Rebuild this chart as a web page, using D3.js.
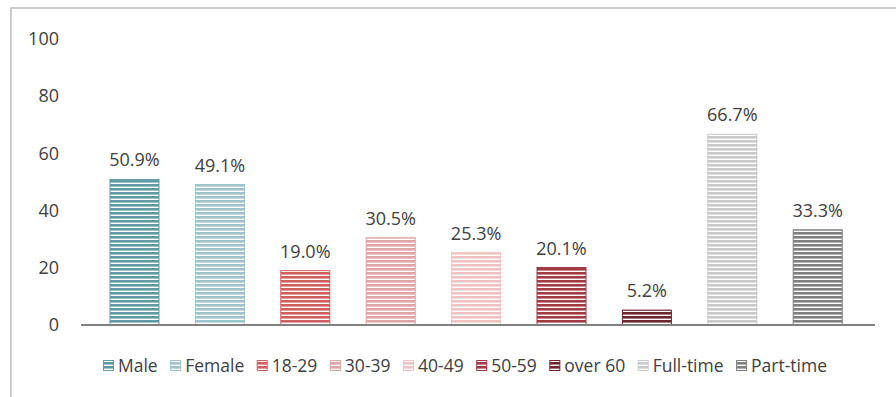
<!DOCTYPE html>
<html>
<head>
<meta charset="utf-8">
<script src="https://cdn.jsdelivr.net/npm/d3@7"></script>
<style>
  html, body { margin: 0; padding: 0; background: #ffffff; }
  svg { display: block; }
  text { font-family: "Open Sans", "Noto Sans", sans-serif; fill: #404040; }
</style>
</head>
<body>
<svg id="chart" width="896" height="397"></svg>
<script>
// Respondent breakdown (percent of total)
const categories = ["Male", "Female", "18-29", "30-39", "40-49", "50-59", "over 60", "Full-time", "Part-time"];
const values = [50.9, 49.1, 19.0, 30.5, 25.3, 20.1, 5.2, 66.7, 33.3];
const colors = ["#5f9ba5", "#9cc4ca", "#d25f5f", "#e1a3a3", "#f0c2c2", "#a33a44", "#6d2630", "#c9c9c9", "#7f7f7f"];
const yTicks = [0, 20, 40, 60, 80, 100];

const svg = d3.select("#chart");
const W = 896, H = 397;

// Chart frame
svg.append("rect")
  .attr("x", 11).attr("y", 8)
  .attr("width", W + 20).attr("height", H + 20)
  .attr("fill", "none").attr("stroke", "#bdbdbd").attr("stroke-width", 1.5);

// Striped fills, one per category
const defs = svg.append("defs");
categories.forEach((c, i) => {
  const p = defs.append("pattern")
    .attr("id", "pat" + i)
    .attr("patternUnits", "userSpaceOnUse")
    .attr("width", 8).attr("height", 4);
  p.append("rect").attr("width", 8).attr("height", 4).attr("fill", "#ffffff");
  p.append("rect").attr("y", 0).attr("width", 8).attr("height", 2.6).attr("fill", colors[i]);
});

const x = d3.scaleBand()
  .domain(categories)
  .range([91.8, 860.4])
  .paddingInner(0.426)
  .paddingOuter(0.213);

const y = d3.scaleLinear().domain([0, 100]).range([325, 39]);

// Y axis labels (no line, no ticks)
const yAxis = svg.append("g")
  .attr("transform", "translate(68,0)")
  .call(d3.axisLeft(y).tickValues(yTicks).tickSize(0).tickPadding(9));
yAxis.select(".domain").remove();
yAxis.selectAll("text")
  .style("font-family", "'Open Sans', 'Noto Sans', sans-serif")
  .style("font-size", "18px")
  .attr("fill", "#404040");

// Bars
svg.append("g").selectAll("rect")
  .data(categories)
  .join("rect")
  .attr("x", d => x(d))
  .attr("y", (d, i) => y(values[i]))
  .attr("width", x.bandwidth())
  .attr("height", (d, i) => y(0) - y(values[i]))
  .attr("fill", (d, i) => `url(#pat${i})`)
  .attr("stroke", (d, i) => colors[i])
  .attr("stroke-width", 1);

// Category axis baseline
svg.append("line")
  .attr("x1", 81).attr("x2", 875)
  .attr("y1", y(0)).attr("y2", y(0))
  .attr("stroke", "#808080").attr("stroke-width", 2);

// Value labels
svg.append("g").selectAll("text")
  .data(categories)
  .join("text")
  .attr("x", d => x(d) + x.bandwidth() / 2)
  .attr("y", (d, i) => y(values[i]) - 13)
  .attr("text-anchor", "middle")
  .style("font-size", "18px")
  .text((d, i) => values[i].toFixed(1) + "%");

// Legend
const gap = 12.5;
const legend = svg.append("g");
let lx = 0;
categories.forEach((c, i) => {
  const g = legend.append("g");
  g.append("rect")
    .attr("x", 0.5).attr("y", -5.5)
    .attr("width", 10).attr("height", 10)
    .attr("fill", `url(#pat${i})`)
    .attr("stroke", colors[i]).attr("stroke-width", 1);
  const t = g.append("text")
    .attr("x", 15).attr("y", 0)
    .attr("dy", "0.35em")
    .style("font-size", "17.5px")
    .text(c);
  const w = 15 + t.node().getComputedTextLength();
  g.attr("transform", `translate(${lx},0)`);
  lx += w + gap;
});
const legendWidth = lx - gap;
legend.attr("transform", `translate(${(103 + 827) / 2 - legendWidth / 2},366)`);
</script>
</body>
</html>
